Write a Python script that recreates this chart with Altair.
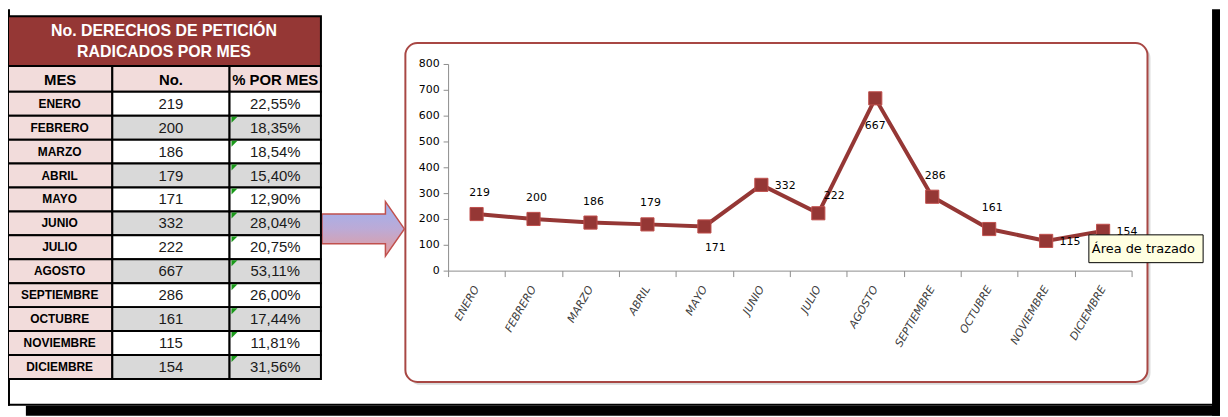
import altair as alt
import pandas as pd

# ---------------- data ----------------
meses = ["ENERO", "FEBRERO", "MARZO", "ABRIL", "MAYO", "JUNIO", "JULIO",
         "AGOSTO", "SEPTIEMBRE", "OCTUBRE", "NOVIEMBRE", "DICIEMBRE"]
radicados = [219, 200, 186, 179, 171, 332, 222, 667, 286, 161, 115, 154]
porcentajes = ["22,55%", "18,35%", "18,54%", "15,40%", "12,90%", "28,04%",
               "20,75%", "53,11%", "26,00%", "17,44%", "11,81%", "31,56%"]
indicador_verde = [False, True, True, True, True, True, True, True, True, True, True, True]
posicion_etiqueta = ["arriba", "arriba", "arriba", "arriba", "abajo_der", "derecha",
                     "arriba_der", "abajo", "arriba", "arriba", "derecha", "derecha"]
ticks_y = [0, 100, 200, 300, 400, 500, 600, 700, 800]
titulo_tabla = ["No. DERECHOS DE PETICIÓN", "RADICADOS POR MES"]
encabezados = ["MES", "No.", "% POR MES"]
texto_ayuda = "Área de trazado"

df = pd.DataFrame({
    "mes": meses,
    "n": radicados,
    "pct": porcentajes,
    "marca": indicador_verde,
    "pos": posicion_etiqueta,
})
df["fondo"] = ["#FFFFFF" if i % 2 == 0 else "#D9D9D9" for i in range(len(meses))]

one = pd.DataFrame({"k": [0]})

# ---------------- layout (page pixels -> plot pixels) ----------------
X0, Y0 = 451, 63          # page position of plot origin
W, H = 688, 208
PAGE_W, PAGE_H = 1228, 417


def px(x):
    return x - X0


def py(y):
    return y - Y0


TFONT = "Liberation Sans, Arial, sans-serif"
SANS = "DejaVu Sans, Verdana, sans-serif"
RED = "#953735"


def box(x1, y1, x2, y2, **kw):
    return alt.Chart(one).mark_rect(**kw).encode(
        x=alt.value(px(x1)), x2=alt.value(px(x2)),
        y=alt.value(py(y1)), y2=alt.value(py(y2)))


# ---------------- decorations ----------------
frame_left = box(8, 8, 10, 407, fill="black")
frame_bottom = box(8, 405, 1221, 407, fill="black")
shadow_bottom = box(26, 407, PAGE_W, PAGE_H, fill="black")
shadow_right = box(1220, 8, PAGE_W, PAGE_H, fill="black")

chart_shadow = box(411, 45, 1158, 386, fill="#DADADA", cornerRadius=12)
chart_box = box(408, 42, 1155, 383, fill="white", stroke="#A84744",
                strokeWidth=2, cornerRadius=12)

arrow_path = "M-1,-0.36L0.54,-0.36L0.54,-0.66L1,0L0.54,0.66L0.54,0.36L-1,0.36Z"
arrow = alt.Chart(one).mark_point(
    shape=arrow_path, size=83 * 83, filled=True, opacity=1,
    fill=alt.LinearGradient(
        gradient="linear", x1=0, y1=0, x2=0, y2=1,
        stops=[alt.GradientStop(color="#9CB2F2", offset=0),
               alt.GradientStop(color="#BCAAD6", offset=0.5),
               alt.GradientStop(color="#E69C9A", offset=1)]),
    stroke="#C0504D", strokeWidth=1.5,
).encode(x=alt.value(px(365.5)), y=alt.value(py(229)))

# ---------------- table ----------------
title_rect = box(8, 15, 323, 65, fill=RED, stroke="black", strokeWidth=2)
title_layers = []
for line_text, yy in zip(titulo_tabla, [30, 51]):
    title_layers.append(alt.Chart(one).mark_text(
        font=TFONT, fontWeight="bold", fontSize=16, color="white",
        align="center", baseline="middle",
    ).encode(x=alt.value(px(165)), y=alt.value(py(yy)), text=alt.value(line_text)))

col_edges = [(8, 113), (113, 231), (231, 323)]
header_layers = []
for (a, b), label in zip(col_edges, encabezados):
    header_layers.append(box(a, 65, b, 91, fill="#F2DCDB", stroke="black", strokeWidth=2))
    header_layers.append(alt.Chart(one).mark_text(
        font=TFONT, fontWeight="bold", fontSize=15, color="black",
        align="center", baseline="middle").encode(
        x=alt.value(px((a + b) / 2)), y=alt.value(py(79)), text=alt.value(label)))

rows_scale = alt.Scale(domain=meses, range=[py(91), py(380)], paddingInner=0, paddingOuter=0)
rows_y = alt.Y("mes:N", sort=meses, scale=rows_scale, axis=None)
rows_y_top = alt.Y("mes:N", sort=meses, scale=rows_scale, axis=None, bandPosition=0)

tb = alt.Chart(df)
mes_cells = tb.mark_rect(fill="#F2DCDB", stroke="black", strokeWidth=2).encode(
    x=alt.value(px(8)), x2=alt.value(px(113)), y=rows_y)
num_cells = tb.mark_rect(stroke="black", strokeWidth=2).encode(
    x=alt.value(px(113)), x2=alt.value(px(231)), y=rows_y,
    fill=alt.Fill("fondo:N", scale=None))
pct_cells = tb.mark_rect(stroke="black", strokeWidth=2).encode(
    x=alt.value(px(231)), x2=alt.value(px(323)), y=rows_y,
    fill=alt.Fill("fondo:N", scale=None))
green = tb.transform_filter(alt.datum.marca).mark_point(
    shape="M0,0.35L2,0.35L0,2.35Z", size=36, filled=True, opacity=1,
    fill="#1A9A1A", strokeWidth=0).encode(x=alt.value(px(233)), y=rows_y_top)
mes_text = tb.mark_text(font=TFONT, fontWeight="bold", fontSize=12, color="black",
                        align="center", baseline="middle").encode(
    x=alt.value(px(60)), y=rows_y, text="mes:N")
num_text = tb.mark_text(font=TFONT, fontSize=15, color="#1A1A1A",
                        align="center", baseline="middle").encode(
    x=alt.value(px(172)), y=rows_y, text="n:Q")
pct_text = tb.mark_text(font=TFONT, fontSize=15, color="#1A1A1A",
                        align="center", baseline="middle").encode(
    x=alt.value(px(277)), y=rows_y, text="pct:N")

table = alt.layer(mes_cells, num_cells, pct_cells, green, mes_text, num_text, pct_text)

# ---------------- line chart ----------------
x_axis = alt.Axis(orient="bottom", title=None, tickBand="extent", labelAngle=300,
                  labelAlign="right", labelBaseline="middle", labelFont=SANS,
                  labelFontStyle="italic", labelFontSize=11, labelColor="#404040",
                  labelPadding=10, tickSize=6, tickColor="#8C8C8C",
                  domainColor="#8C8C8C", grid=False, labelOverlap=False, zindex=2)
y_axis = alt.Axis(orient="left", title=None, values=ticks_y, labelFont=SANS,
                  labelFontSize=11, labelColor="black", labelPadding=4, tickSize=5,
                  tickColor="#8C8C8C", domainColor="#8C8C8C", grid=False, zindex=2)
xenc = alt.X("mes:N", sort=meses, bandPosition=0.5,
             scale=alt.Scale(type="band", domain=meses, paddingInner=0, paddingOuter=0),
             axis=x_axis)
yenc = alt.Y("n:Q", scale=alt.Scale(domain=[0, 800], nice=False), axis=y_axis)

ch = alt.Chart(df)
line = ch.mark_line(color=RED, strokeWidth=4).encode(x=xenc, y=yenc)
pts = ch.mark_point(shape="square", filled=True, size=175, opacity=1,
                    fill=RED, stroke="#C0504D", strokeWidth=1).encode(x=xenc, y=yenc)

offsets = {"arriba": (3, -21), "arriba_der": (16, -17), "derecha": (24, 1),
           "abajo": (0, 28), "abajo_der": (11, 22)}
label_layers = []
for key, (dx, dy) in offsets.items():
    label_layers.append(ch.transform_filter(alt.datum.pos == key).mark_text(
        font=SANS, fontSize=11, color="black", dx=dx, dy=dy,
        align="center", baseline="middle").encode(x=xenc, y=yenc, text="n:Q"))

plot = alt.layer(line, pts, *label_layers)

# ---------------- tooltip ----------------
tip_rect = box(1096, 235, 1211, 263, fill="#FFFFE1", stroke="black", strokeWidth=1)
tip_text = alt.Chart(one).mark_text(font=SANS, fontSize=13, color="black",
                                    align="left", baseline="middle").encode(
    x=alt.value(px(1099)), y=alt.value(py(249.5)), text=alt.value(texto_ayuda))

chart = alt.layer(
    frame_left, frame_bottom, shadow_bottom, shadow_right,
    chart_shadow, chart_box, arrow,
    title_rect, *title_layers, *header_layers,
    table, plot, tip_rect, tip_text,
).resolve_scale(
    x="independent", y="independent", fill="independent"
).properties(
    width=W, height=H,
    autosize=alt.AutoSizeParams(type="none"),
    padding={"left": X0 - 8, "top": Y0 - 8,
             "right": PAGE_W - 8 - (X0 - 8) - W,
             "bottom": PAGE_H - 8 - (Y0 - 8) - H},
    background="white",
).configure_view(stroke=None)

chart.save("out.html", embed_options={"renderer": "svg", "actions": False})
